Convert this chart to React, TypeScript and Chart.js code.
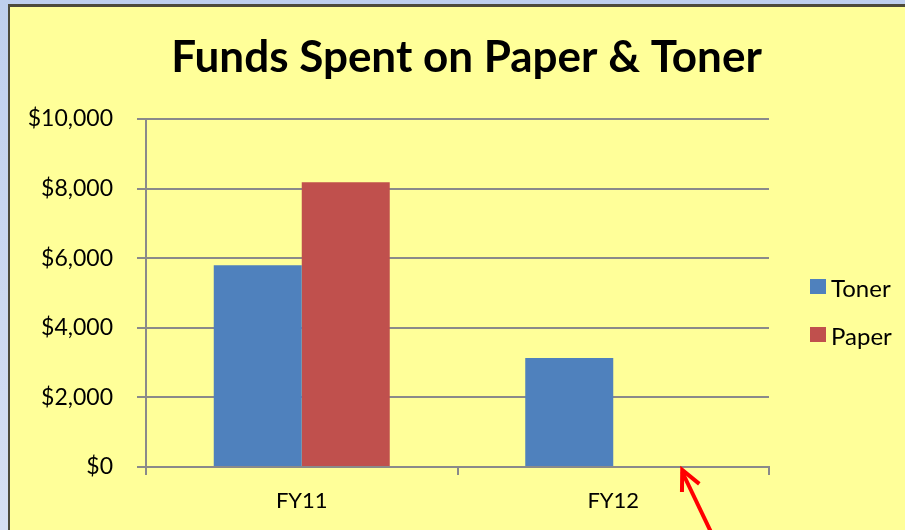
import React, { useEffect, useRef } from "react";
import { Chart, registerables } from "chart.js";

Chart.register(...registerables);

const categories = ["FY11", "FY12"];
const seriesNames = ["Toner", "Paper"];
const tonerValues = [5800, 3130];
const paperValues = [8180, 0];
const seriesColors = ["#4f81bd", "#c0504d"];
const yTicks = [0, 2000, 4000, 6000, 8000, 10000];
const titleText = "Funds Spent on Paper & Toner";

const FONT = "Lato, 'Open Sans', sans-serif";

const legendPlugin = {
  id: "sideLegend",
  afterDraw(chart: any) {
    const ctx = chart.ctx;
    const items = chart.data.datasets;
    ctx.save();
    ctx.font = `24px ${FONT}`;
    ctx.textBaseline = "middle";
    ctx.textAlign = "left";
    const x = chart.chartArea.right + 41;
    const midY = (chart.chartArea.top + chart.chartArea.bottom) / 2 + 18;
    const gap = 48;
    items.forEach((ds: any, i: number) => {
      const y = midY + (i - (items.length - 1) / 2) * gap;
      ctx.fillStyle = ds.backgroundColor;
      ctx.fillRect(x, y - 8, 16, 15);
      ctx.fillStyle = "#000";
      ctx.fillText(ds.label, x + 21, y + 2);
    });
    ctx.restore();
  },
};

const arrowPlugin = {
  id: "arrowNote",
  afterDraw(chart: any) {
    const ctx = chart.ctx;
    const xs = chart.scales.x;
    const ys = chart.scales.y;
    const tipX = xs.getPixelForValue(1) + 69;
    const tipY = ys.getPixelForValue(0) + 3;
    const dx = 28, dy = 60;
    const len = Math.hypot(dx, dy);
    const ux = dx / len, uy = dy / len;
    ctx.save();
    ctx.strokeStyle = "#ff0000";
    ctx.lineWidth = 4;
    ctx.lineCap = "butt";
    ctx.beginPath();
    ctx.moveTo(tipX, tipY + 2);
    ctx.lineTo(tipX + ux * 90, tipY + uy * 90);
    ctx.stroke();
    const wing = 22;
    const ang = 0.45;
    const rot = (a: number) => [ux * Math.cos(a) - uy * Math.sin(a), ux * Math.sin(a) + uy * Math.cos(a)];
    const [ax, ay] = rot(ang);
    const [bx, by] = rot(-ang);
    ctx.lineJoin = "miter";
    ctx.beginPath();
    ctx.moveTo(tipX + ax * wing, tipY + ay * wing);
    ctx.lineTo(tipX, tipY);
    ctx.lineTo(tipX + bx * wing, tipY + by * wing);
    ctx.stroke();
    ctx.restore();
  },
};

export default function App() {
  const ref = useRef<HTMLCanvasElement>(null);
  useEffect(() => {
    if (!ref.current) return;
    const chart = new Chart(ref.current, {
      type: "bar",
      data: {
        labels: categories,
        datasets: [
          { label: seriesNames[0], data: tonerValues, backgroundColor: seriesColors[0] },
          { label: seriesNames[1], data: paperValues, backgroundColor: seriesColors[1] },
        ],
      },
      options: {
        animation: false,
        responsive: false,
        maintainAspectRatio: false,
        layout: { padding: { left: 28, right: 0, top: 10, bottom: 0 } },
        datasets: { bar: { categoryPercentage: 0.565, barPercentage: 1 } },
        plugins: {
          legend: { display: false },
          tooltip: { enabled: false },
          title: {
            display: true,
            text: titleText,
            color: "#000",
            font: { family: FONT, size: 44, weight: "bold", lineHeight: 1.2 },
            padding: { top: 21.6, bottom: 34.6 },
          },
        },
        scales: {
          x: {
            offset: true,
            afterFit(scale: any) {
              scale.height = 63;
            },
            grid: {
              offset: true,
              drawOnChartArea: false,
              drawTicks: true,
              tickLength: 8,
              color: "#8a8a8a",
              lineWidth: 2,
            },
            border: { display: true, color: "#8a8a8a", width: 2 },
            ticks: { color: "#000", font: { family: FONT, size: 22 }, padding: 13 },
          },
          y: {
            min: 0,
            max: 10000,
            afterBuildTicks(scale: any) {
              scale.ticks = yTicks.map((v) => ({ value: v }));
            },
            afterFit(scale: any) {
              scale.width = 118;
            },
            grid: { color: "#8a8a8a", lineWidth: 2, tickLength: 9, drawTicks: true },
            border: { display: true, color: "#8a8a8a", width: 2 },
            ticks: {
              color: "#000",
              font: { family: FONT, size: 23 },
              padding: 24,
              callback: (v: any) => "$" + Number(v).toLocaleString("en-US"),
            },
          },
          legendSpace: {
            type: "linear",
            position: "right",
            display: true,
            afterFit(scale: any) {
              scale.width = 136;
            },
            grid: { display: false, drawTicks: false },
            border: { display: false },
            ticks: { display: false },
          },
        },
      },
      plugins: [legendPlugin, arrowPlugin],
    });
    return () => chart.destroy();
  }, []);

  return (
    <div
      style={{
        position: "fixed",
        left: 0,
        top: 0,
        width: 905,
        height: 530,
        overflow: "hidden",
        background: "linear-gradient(#bfcfee, #d6dff3)",
      }}
    >
      <div
        style={{
          position: "absolute",
          left: 8,
          top: 4,
          width: 905,
          height: 530,
          boxSizing: "border-box",
          borderLeft: "2px solid #4d4a3c",
          borderTop: "3px solid #4d4a3c",
          background: "#ffff99",
        }}
      />
      <canvas ref={ref} width={905} height={530} style={{ position: "absolute", left: 0, top: 0 }} />
    </div>
  );
}
